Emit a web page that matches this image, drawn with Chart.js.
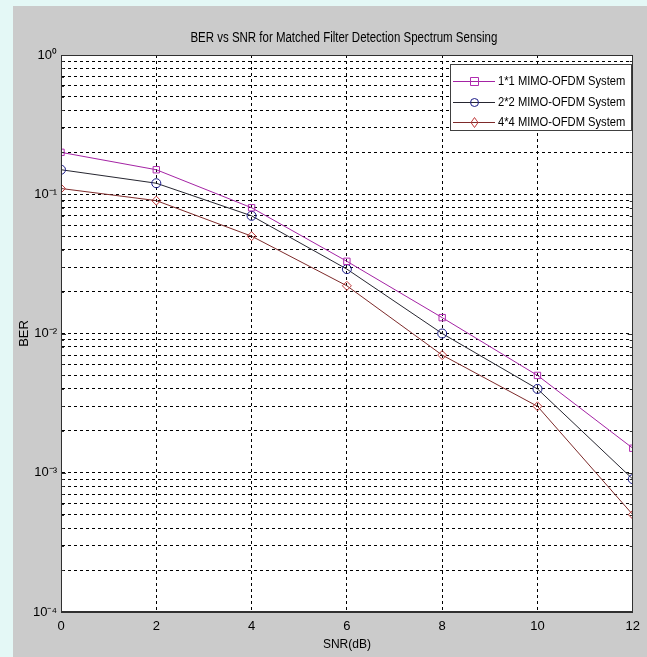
<!DOCTYPE html>
<html>
<head>
<meta charset="utf-8">
<script src="https://cdn.jsdelivr.net/npm/chart.js@4/dist/chart.umd.min.js"></script>
<style>
  html, body { margin: 0; padding: 0; background: #dff6f3; }
  #wrap { position: absolute; left: 0; top: 0; width: 647px; height: 657px; }
</style>
</head>
<body>
<div id="wrap"><canvas id="c" width="647" height="657"></canvas></div>
<script>
// ---- data ----
const snr = [0, 2, 4, 6, 8, 10, 12];
const ber1x1 = [0.2, 0.15, 0.08, 0.033, 0.013, 0.005, 0.0015];
const ber2x2 = [0.15, 0.12, 0.07, 0.029, 0.01, 0.004, 0.0009];
const ber4x4 = [0.11, 0.09, 0.05, 0.022, 0.007, 0.003, 0.0005];
const seriesLabels = ['1*1 MIMO-OFDM System', '2*2 MIMO-OFDM System', '4*4 MIMO-OFDM System'];
const xTicks = [0, 2, 4, 6, 8, 10, 12];
const yDecades = [1e-4, 1e-3, 1e-2, 1e-1, 1];
const yTickLabels = ['10\u207B\u2074', '10\u207B\u00B3', '10\u207B\u00B2', '10\u207B\u00B9', '10\u2070'];
const titleText = 'BER vs SNR for Matched Filter Detection Spectrum Sensing';
const xTitle = 'SNR(dB)';
const yTitle = 'BER';

const FONT = "'Liberation Sans', Arial, sans-serif";

// all minor/major log gridline positions
const yGridValues = [];
for (let d = 0; d < yDecades.length - 1; d++) {
  for (let m = 1; m <= 9; m++) yGridValues.push(yDecades[d] * m);
}
yGridValues.push(yDecades[yDecades.length - 1]);

function pts(arr) { return snr.map((x, i) => ({ x: x, y: arr[i] })); }

const bgPlugin = {
  id: 'bg',
  beforeDraw(chart) {
    const ctx = chart.ctx;
    ctx.save();
    ctx.fillStyle = '#e4f8f6';
    ctx.fillRect(0, 0, 647, 657);
    ctx.fillStyle = '#cbcbcb';
    ctx.fillRect(13, 6, 634, 651);
    const a = chart.chartArea;
    ctx.fillStyle = '#ffffff';
    ctx.fillRect(a.left, a.top, a.right - a.left, a.bottom - a.top);
    ctx.restore();
  }
};

const boxLegendPlugin = {
  id: 'boxLegend',
  afterDraw(chart) {
    const ctx = chart.ctx;
    const a = chart.chartArea;
    ctx.save();
    ctx.setLineDash([]);
    ctx.strokeStyle = '#303030';
    ctx.lineWidth = 1;
    ctx.strokeRect(Math.round(a.left) + 0.5, Math.round(a.top) + 0.5,
                   Math.round(a.right - a.left) - 1, Math.round(a.bottom - a.top) - 1);
    // small inward ticks like MATLAB
    const ys = chart.scales.y;
    ctx.beginPath();
    yGridValues.forEach(v => {
      const y = Math.round(ys.getPixelForValue(v)) + 0.5;
      const isMajor = yDecades.indexOf(v) >= 0;
      const len = isMajor ? 5 : 3;
      ctx.moveTo(a.left, y); ctx.lineTo(a.left + len, y);
      ctx.moveTo(a.right, y); ctx.lineTo(a.right - len, y);
    });
    ctx.stroke();

    // title (condensed, like the reference)
    ctx.save();
    ctx.translate((a.left + a.right) / 2 - 3, 38);
    ctx.scale(0.82, 1);
    ctx.fillStyle = '#000';
    ctx.font = '14px ' + FONT;
    ctx.textAlign = 'center';
    ctx.textBaseline = 'middle';
    ctx.fillText(titleText, 0, 0);
    ctx.restore();

    // legend
    const lx = 450, ly = 64, lw = 181, lh = 66;
    ctx.fillStyle = '#ffffff';
    ctx.fillRect(lx, ly, lw, lh);
    ctx.strokeStyle = '#404040';
    ctx.strokeRect(lx + 0.5, ly + 0.5, lw, lh);
    const rows = [81, 102, 122];
    chart.data.datasets.forEach((ds, i) => {
      const y = rows[i] + 0.5;
      ctx.strokeStyle = ds.borderColor;
      ctx.lineWidth = 1;
      ctx.beginPath(); ctx.moveTo(453, y); ctx.lineTo(495, y); ctx.stroke();
      ctx.strokeStyle = ds.pointBorderColor;
      const cx = 474.5;
      ctx.beginPath();
      if (ds.pointStyle === 'rect') {
        ctx.rect(cx - 4, y - 4, 8, 8);
      } else if (ds.pointStyle === 'circle') {
        ctx.arc(cx, y, 4, 0, Math.PI * 2);
      } else {
        ctx.moveTo(cx, y - 5); ctx.lineTo(cx + 3.5, y); ctx.lineTo(cx, y + 5); ctx.lineTo(cx - 3.5, y); ctx.closePath();
      }
      ctx.stroke();
      ctx.save();
      ctx.translate(498, y);
      ctx.scale(0.86, 1);
      ctx.fillStyle = '#000000';
      ctx.font = '13px ' + FONT;
      ctx.textBaseline = 'middle';
      ctx.textAlign = 'left';
      ctx.fillText(ds.label, 0, 0);
      ctx.restore();
    });
    ctx.restore();
  }
};

new Chart(document.getElementById('c'), {
  type: 'line',
  data: {
    datasets: [
      { label: seriesLabels[0], data: pts(ber1x1), borderColor: '#a423a4', pointBorderColor: '#b02cb0',
        pointStyle: 'rect', pointRadius: 4.5, pointBackgroundColor: 'rgba(0,0,0,0)', borderWidth: 1, pointBorderWidth: 1 },
      { label: seriesLabels[1], data: pts(ber2x2), borderColor: '#262630', pointBorderColor: '#1c1c88',
        pointStyle: 'circle', pointRadius: 4.5, pointBackgroundColor: 'rgba(0,0,0,0)', borderWidth: 1, pointBorderWidth: 1 },
      { label: seriesLabels[2], data: pts(ber4x4), borderColor: '#7d2a2a', pointBorderColor: '#c03a3a',
        pointStyle: 'rectRot', pointRadius: 4.5, pointBackgroundColor: 'rgba(0,0,0,0)', borderWidth: 1, pointBorderWidth: 1 }
    ]
  },
  options: {
    responsive: false,
    animation: false,
    events: [],
    layout: { padding: { left: 0, right: 12, top: 55, bottom: 0 } },
    plugins: {
      legend: { display: false },
      tooltip: { enabled: false },
      title: { display: false }
    },
    scales: {
      x: {
        type: 'linear', min: 0, max: 12,
        afterBuildTicks(scale) { scale.ticks = xTicks.map(v => ({ value: v })); },
        afterFit(scale) { scale.height = 45; },
        ticks: { color: '#000', padding: 7, font: { family: FONT, size: 13 }, autoSkip: false, maxRotation: 0 },
        grid: { color: '#000000', lineWidth: 1, drawTicks: false },
        border: { display: true, color: '#303030', dash: [3, 3] },
        title: { display: true, text: xTitle, color: '#000', font: { family: FONT, size: 12 }, padding: { top: 0, bottom: 5 } }
      },
      y: {
        type: 'logarithmic', min: 1e-4, max: 1,
        afterBuildTicks(scale) { scale.ticks = yGridValues.map(v => ({ value: v })); },
        afterFit(scale) { scale.width = 61; },
        ticks: {
          color: '#000', padding: 4, autoSkip: false, font: { family: FONT, size: 13 },
          callback(value) {
            const i = yDecades.findIndex(d => Math.abs(d - value) < d * 1e-6);
            return i >= 0 ? yTickLabels[i] : '';
          }
        },
        grid: { color: '#000000', lineWidth: 1, drawTicks: false },
        border: { display: true, color: '#303030', dash: [3, 3] },
        title: { display: true, text: yTitle, color: '#000', font: { family: FONT, size: 13 }, padding: { top: 17, bottom: 0 } }
      }
    }
  },
  plugins: [bgPlugin, boxLegendPlugin]
});
</script>
</body>
</html>
